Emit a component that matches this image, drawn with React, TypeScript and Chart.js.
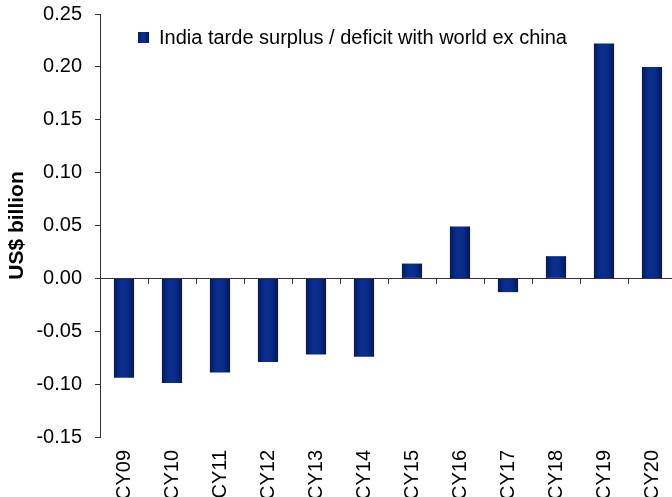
import React, { useEffect, useRef } from 'react';
import { Chart, registerables } from 'chart.js';

Chart.register(...registerables);

const categories = ['CY09', 'CY10', 'CY11', 'CY12', 'CY13', 'CY14', 'CY15', 'CY16', 'CY17', 'CY18', 'CY19', 'CY20'];
const surplusValues = [-0.094, -0.099, -0.089, -0.079, -0.072, -0.074, 0.014, 0.049, -0.013, 0.021, 0.222, 0.200];
const seriesLabel = 'India tarde surplus / deficit with world ex china';
const yMin = -0.15;
const yMax = 0.25;
const yStep = 0.05;
const yTitle = 'US$ billion';

const FONT = '"Liberation Sans", Arial, sans-serif';
const BAR_PCT = 0.42;
const AXIS_COLOR = '#333333';

function barGradient(chart: any, x0: number, x1: number) {
  const g = chart.ctx.createLinearGradient(x0, 0, x1, 0);
  g.addColorStop(0, '#001a5c');
  g.addColorStop(0.3, '#0a2c8a');
  g.addColorStop(0.6, '#0b2e8e');
  g.addColorStop(1, '#001a5c');
  return g;
}

const insideLegend = {
  id: 'insideLegend',
  afterDraw(chart: any) {
    const { ctx, chartArea } = chart;
    const ds = chart.data.datasets[0];
    const bx = chartArea.left + 38;
    const by = chartArea.top + 18;
    const size = 11;
    ctx.save();
    ctx.fillStyle = barGradient(chart, bx, bx + size);
    ctx.fillRect(bx, by, size, size);
    ctx.fillStyle = '#000';
    ctx.font = `20px ${FONT}`;
    ctx.textBaseline = 'middle';
    ctx.textAlign = 'left';
    ctx.fillText(ds.label, bx + size + 10, by + size / 2 + 1);
    ctx.restore();
  },
};

export default function App() {
  const ref = useRef<HTMLCanvasElement | null>(null);

  useEffect(() => {
    if (!ref.current) return;
    const chart = new Chart(ref.current, {
      type: 'bar',
      data: {
        labels: categories,
        datasets: [
          {
            label: seriesLabel,
            data: surplusValues,
            barPercentage: BAR_PCT,
            categoryPercentage: 1,
            borderWidth: 0,
            backgroundColor: (c: any) => {
              const chart = c.chart;
              const xs = chart.scales?.x;
              if (!xs || !chart.chartArea) return '#0b2e8e';
              const cx = xs.getPixelForValue(c.dataIndex);
              const half = (xs.width / categories.length) * BAR_PCT / 2;
              return barGradient(chart, cx - half, cx + half);
            },
          },
        ],
      },
      options: {
        animation: false,
        responsive: true,
        maintainAspectRatio: false,
        layout: { padding: { top: 14, left: 0, right: 0, bottom: 0 } },
        plugins: {
          legend: { display: false },
          tooltip: { enabled: false },
        },
        scales: {
          x: {
            type: 'category',
            position: 'bottom',
            grid: { display: false, drawTicks: false },
            border: { display: false },
            ticks: {
              autoSkip: false,
              maxRotation: 90,
              minRotation: 90,
              padding: 13,
              color: '#000',
              font: { family: FONT, size: 20 },
            },
            afterFit: (s: any) => {
              s.height = 70;
              s.paddingLeft = 0;
              s.paddingRight = 0;
            },
          },
          x2: {
            type: 'category',
            labels: categories,
            position: { y: 0 } as any,
            offset: true,
            grid: {
              offset: true,
              drawOnChartArea: false,
              drawTicks: true,
              tickLength: 5,
              color: AXIS_COLOR,
              lineWidth: 1,
            },
            border: { display: true, color: AXIS_COLOR, width: 1 },
            ticks: { display: false },
            afterFit: (s: any) => {
              s.paddingLeft = 0;
              s.paddingRight = 0;
            },
          },
          y: {
            min: yMin,
            max: yMax,
            grid: {
              drawOnChartArea: false,
              drawTicks: true,
              tickLength: 5,
              color: AXIS_COLOR,
            },
            border: { display: true, color: AXIS_COLOR, width: 1 },
            ticks: {
              stepSize: yStep,
              padding: 13,
              color: '#000',
              font: { family: FONT, size: 20 },
              callback: (v: any) => Number(v).toFixed(2),
            },
            title: {
              display: true,
              text: yTitle,
              color: '#000',
              font: { family: FONT, size: 21, weight: 'bold' },
              padding: { top: 5, bottom: 0 },
            },
            afterFit: (s: any) => {
              s.width = 100;
              s.paddingTop = 0;
              s.paddingBottom = 0;
            },
          },
        },
      },
      plugins: [insideLegend],
    });
    return () => chart.destroy();
  }, []);

  return (
    <div style={{ position: 'fixed', top: 0, left: 0, width: 676, height: 507, background: '#fff' }}>
      <canvas ref={ref} />
    </div>
  );
}
